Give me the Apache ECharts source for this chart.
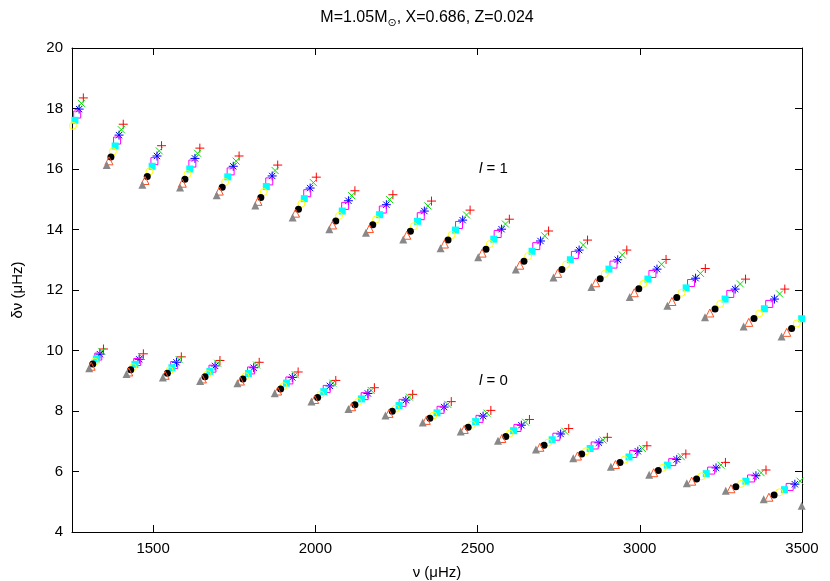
<!DOCTYPE html>
<html><head><meta charset="utf-8">
<script src="https://cdn.jsdelivr.net/npm/echarts@6/dist/echarts.min.js"></script>
<style>html,body{margin:0;padding:0;background:#fff}#c{width:830px;height:581px}</style>
</head><body><div id="c"></div>
<script>
// ---- data: first 20 values = l=1 ridge, last 20 values = l=0 ridge ----
const nuRed = [1285,1408,1526,1644,1765,1884,2003,2122,2239,2358,2477,2598,2719,2839,2960,3081,3202,3326,3447,3561,
               1347,1470,1587,1706,1827,1947,2063,2182,2300,2419,2541,2660,2781,2900,3022,3142,3264,3389,3510,3627];
const dnuRed = [18.35,17.48,16.77,16.69,16.43,16.13,15.73,15.28,15.15,14.94,14.64,14.34,13.95,13.65,13.32,13.01,12.71,12.36,12.03,11.69,
                10.05,9.89,9.79,9.67,9.61,9.29,9.01,8.77,8.55,8.31,8.02,7.72,7.42,7.13,6.85,6.58,6.30,6.05,5.77,5.56];
const nuGreen = [1279,1402,1519,1637,1756,1876,1994,2112,2229,2347,2466,2586,2707,2826,2946,3067,3187,3310,3431,3546,
                 1342,1464,1580,1699,1819,1938,2054,2172,2290,2408,2529,2648,2769,2887,3008,3128,3250,3374,3494,3611];
const dnuGreen = [18.17,17.30,16.60,16.52,16.26,15.95,15.55,15.12,14.99,14.78,14.48,14.18,13.79,13.49,13.16,12.85,12.55,12.20,11.87,11.53,
                  9.97,9.80,9.70,9.58,9.52,9.20,8.92,8.68,8.46,8.22,7.93,7.63,7.33,7.04,6.76,6.49,6.21,5.96,5.68,5.47];
const nuBlue = [1272,1395,1512,1629,1747,1867,1984,2102,2219,2336,2454,2574,2694,2813,2932,3053,3172,3294,3415,3530,
                1336,1457,1572,1691,1810,1929,2045,2162,2279,2397,2517,2635,2756,2874,2994,3114,3235,3358,3478,3595];
const dnuBlue = [17.98,17.12,16.43,16.35,16.09,15.77,15.37,14.95,14.82,14.61,14.31,14.01,13.62,13.32,13.00,12.69,12.39,12.03,11.70,11.37,
                 9.88,9.71,9.61,9.49,9.43,9.11,8.83,8.58,8.36,8.13,7.83,7.53,7.24,6.95,6.67,6.40,6.12,5.86,5.58,5.37];
const nuMagenta = [1266,1389,1504,1621,1739,1858,1975,2092,2208,2325,2443,2562,2681,2800,2919,3039,3158,3279,3399,3515,
                   1331,1451,1565,1683,1802,1920,2035,2152,2269,2386,2506,2623,2743,2861,2980,3100,3220,3343,3462,3579];
const dnuMagenta = [17.80,16.94,16.26,16.18,15.92,15.59,15.20,14.78,14.66,14.44,14.15,13.85,13.45,13.16,12.84,12.53,12.23,11.87,11.54,11.21,
                    9.80,9.62,9.52,9.40,9.34,9.01,8.73,8.49,8.27,8.04,7.74,7.44,7.15,6.86,6.58,6.31,6.03,5.77,5.49,5.28];
const nuCyan = [1259,1383,1497,1613,1730,1849,1966,2083,2198,2315,2432,2550,2668,2786,2905,3025,3143,3263,3384,3499,
                1325,1444,1558,1675,1794,1911,2026,2142,2258,2375,2494,2611,2730,2847,2967,3085,3205,3327,3446,3563];
const dnuCyan = [17.61,16.76,16.09,16.00,15.74,15.42,15.02,14.61,14.49,14.27,13.98,13.68,13.28,13.00,12.69,12.36,12.07,11.70,11.38,11.05,
                 9.72,9.54,9.43,9.31,9.24,8.92,8.64,8.40,8.18,7.94,7.65,7.35,7.05,6.76,6.48,6.21,5.93,5.68,5.40,5.19];
const nuYellow = [1253,1376,1489,1606,1722,1841,1957,2073,2187,2304,2420,2538,2656,2773,2892,3011,3129,3248,3368,3484,
                  1320,1438,1551,1668,1785,1902,2016,2132,2248,2364,2483,2599,2718,2834,2953,3071,3190,3312,3430,3547];
const dnuYellow = [17.43,16.58,15.92,15.83,15.57,15.24,14.85,14.45,14.33,14.11,13.82,13.52,13.12,12.84,12.53,12.20,11.91,11.54,11.22,10.89,
                   9.63,9.45,9.34,9.22,9.15,8.82,8.54,8.30,8.08,7.85,7.55,7.25,6.96,6.67,6.39,6.12,5.84,5.59,5.31,5.10];
const nuBlack = [1246,1370,1482,1598,1713,1832,1948,2063,2177,2293,2409,2526,2643,2760,2878,2997,3114,3232,3352,3468,
                 1314,1431,1544,1660,1777,1893,2007,2122,2237,2353,2471,2587,2705,2821,2939,3057,3175,3296,3414,3531];
const dnuBlack = [17.24,16.40,15.75,15.66,15.40,15.06,14.67,14.28,14.16,13.94,13.65,13.35,12.95,12.68,12.37,12.04,11.75,11.37,11.06,10.73,
                  9.55,9.36,9.25,9.13,9.06,8.73,8.45,8.21,7.99,7.76,7.46,7.16,6.87,6.58,6.30,6.03,5.75,5.50,5.22,5.01];
const nuOrange = [1240,1364,1475,1590,1704,1823,1939,2053,2167,2282,2398,2514,2630,2747,2864,2983,3099,3216,3336,3453,
                  1309,1425,1537,1652,1769,1884,1998,2112,2227,2342,2459,2575,2692,2808,2925,3043,3160,3281,3398,3515];
const dnuOrange = [17.11,16.27,15.62,15.53,15.27,14.93,14.54,14.15,14.03,13.81,13.52,13.22,12.82,12.55,12.24,11.91,11.62,11.24,10.93,10.60,
                   9.48,9.29,9.18,9.06,8.99,8.66,8.38,8.14,7.92,7.69,7.39,7.09,6.80,6.51,6.23,5.96,5.68,5.43,5.15,4.94];
const nuGray = [1233,1357,1467,1583,1696,1815,1930,2043,2156,2271,2386,2502,2618,2734,2851,2969,3085,3201,3320,3437,
                1303,1418,1530,1645,1760,1875,1988,2102,2216,2331,2448,2563,2680,2795,2911,3029,3145,3265,3382,3499];
const dnuGray = [16.97,16.13,15.48,15.39,15.13,14.79,14.40,14.01,13.89,13.67,13.38,13.08,12.68,12.41,12.10,11.77,11.48,11.10,10.79,10.46,
                 9.41,9.22,9.11,8.99,8.92,8.59,8.31,8.07,7.85,7.62,7.32,7.02,6.73,6.44,6.16,5.89,5.61,5.36,5.08,4.87];

const xTicks = [1500, 2000, 2500, 3000, 3500];
const yTicks = [4, 6, 8, 10, 12, 14, 16, 18, 20];
const titleText = 'M=1.05M{s|⊙}, X=0.686, Z=0.024';
const ridgeLabels = ['l = 1', 'l = 0'];

// ---- styles ----
const FONT = '"Liberation Sans", Arial, Helvetica, sans-serif';
const P_PLUS = 'path://M0,5L10,5M5,0L5,10';
const P_CROSS = 'path://M0,0L10,10M0,10L10,0';
const P_STAR = 'path://M0,5L10,5M5,0L5,10M1.5,1.5L8.5,8.5M1.5,8.5L8.5,1.5';

const defs = [
  {nu: nuRed, dnu: dnuRed, symbol: P_PLUS, size: 9, color: '#ff0000', filled: false},
  {nu: nuGreen, dnu: dnuGreen, symbol: P_CROSS, size: 7, color: '#00e000', filled: false},
  {nu: nuBlue, dnu: dnuBlue, symbol: P_STAR, size: 9, color: '#0000ff', filled: false},
  {nu: nuMagenta, dnu: dnuMagenta, symbol: 'rect', size: 7, color: '#ff00ff', filled: false},
  {nu: nuCyan, dnu: dnuCyan, symbol: 'rect', size: 7, color: '#00ffff', filled: true},
  {nu: nuYellow, dnu: dnuYellow, symbol: 'circle', size: 7, color: '#ffff00', filled: false},
  {nu: nuBlack, dnu: dnuBlack, symbol: 'circle', size: 7, color: '#000000', filled: true},
  {nu: nuOrange, dnu: dnuOrange, symbol: 'triangle', size: 8, color: '#ff5020', filled: false},
  {nu: nuGray, dnu: dnuGray, symbol: 'triangle', size: 8, color: '#888888', filled: true}
];

const series = defs.map((d, i) => ({
  type: 'scatter',
  xAxisIndex: 0, yAxisIndex: 0,
  data: d.nu.map((v, j) => [v, d.dnu[j]]),
  symbol: d.symbol,
  symbolSize: d.size,
  clip: true,
  z: 2 + i,
  itemStyle: d.filled
    ? {color: d.color, borderWidth: 0, opacity: 1}
    : {color: 'rgba(0,0,0,0)', borderColor: d.color, borderWidth: 1, opacity: 1},
  emphasis: {disabled: true},
  animation: false
}));

const axisLineS = {show: true, onZero: false, lineStyle: {color: '#000', width: 1}};
const tickS = (vals) => ({show: true, inside: true, length: 7, customValues: vals, lineStyle: {color: '#000', width: 1}});
const labelS = {color: '#000', fontSize: 15, fontFamily: FONT, formatter: (v) => String(v)};

const option = {
  backgroundColor: '#fff',
  animation: false,
  grid: {left: 72, right: 28, top: 48, bottom: 49, containLabel: false, outerBoundsMode: 'none'},
  xAxis: [
    {type: 'value', position: 'bottom', min: 1250, max: 3500,
     axisLine: axisLineS, axisTick: tickS(xTicks),
     axisLabel: Object.assign({show: true, customValues: xTicks, margin: 9}, labelS),
     splitLine: {show: false},
     name: 'ν (μHz)', nameLocation: 'middle', nameGap: 33,
     nameTextStyle: {color: '#000', fontSize: 15, fontFamily: FONT}},
    {type: 'value', position: 'top', min: 1250, max: 3500,
     axisLine: axisLineS, axisTick: tickS(xTicks),
     axisLabel: {show: false}, splitLine: {show: false}}
  ],
  yAxis: [
    {type: 'value', position: 'left', min: 4, max: 20, interval: 2,
     axisLine: axisLineS, axisTick: tickS(yTicks),
     axisLabel: Object.assign({show: true, customValues: yTicks, margin: 9}, labelS),
     splitLine: {show: false},
     name: 'δν (μHz)', nameLocation: 'middle', nameGap: 47, nameRotate: 90,
     nameTextStyle: {color: '#000', fontSize: 15, fontFamily: FONT}},
    {type: 'value', position: 'right', min: 4, max: 20, interval: 2,
     axisLine: axisLineS, axisTick: tickS(yTicks),
     axisLabel: {show: false}, splitLine: {show: false}}
  ],
  graphic: [
    {type: 'text', x: 427, y: 18, z: 100,
     style: {text: titleText, fill: '#000', font: '16px ' + FONT, align: 'center', verticalAlign: 'middle',
       rich: {s: {fontSize: 11, fontFamily: 'DejaVu Sans', fill: '#000', padding: [10, 0, 0, 0], verticalAlign: 'bottom'}}}},
    {type: 'text', x: 479, y: 169, z: 100,
     style: {text: '{i|l}' + ridgeLabels[0].slice(1), fill: '#000', font: '15px ' + FONT, align: 'left', verticalAlign: 'middle',
       rich: {i: {fontStyle: 'italic', fontSize: 15, fontFamily: FONT, fill: '#000'}}}},
    {type: 'text', x: 479, y: 381, z: 100,
     style: {text: '{i|l}' + ridgeLabels[1].slice(1), fill: '#000', font: '15px ' + FONT, align: 'left', verticalAlign: 'middle',
       rich: {i: {fontStyle: 'italic', fontSize: 15, fontFamily: FONT, fill: '#000'}}}}
  ],
  series: series
};

const chart = echarts.init(document.getElementById('c'), null, {renderer: 'canvas'});
chart.setOption(option);
</script>
</body></html>
